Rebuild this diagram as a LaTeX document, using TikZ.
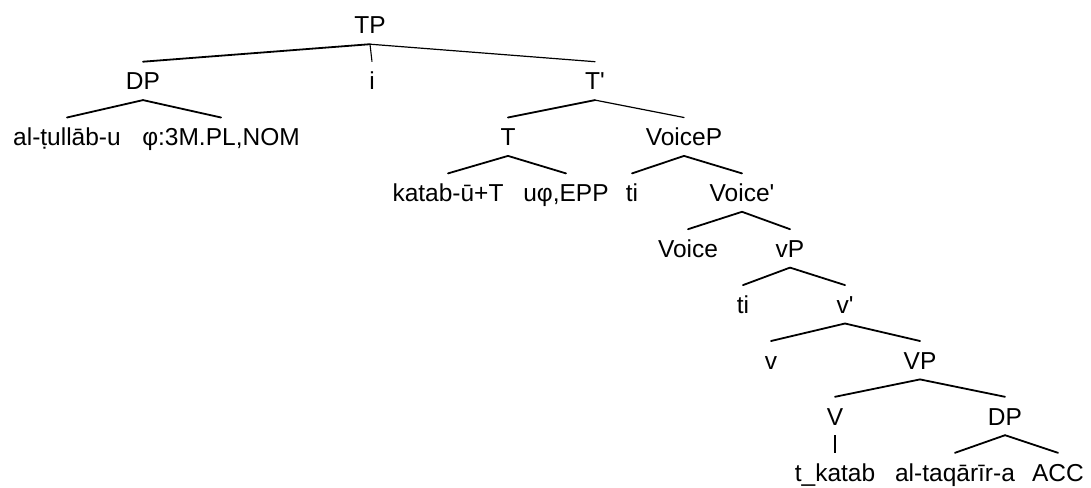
\documentclass[tikz,border=0pt]{standalone}
\usepackage{fontspec}
\newfontfamily\arialfont{Liberation Sans}
\begin{document}
\begin{tikzpicture}[x=1pt,y=-1pt,
  lab/.style={font=\arialfont\fontsize{24.5}{28}\selectfont, anchor=base,
    text height=18pt, text depth=0pt, inner xsep=0pt, inner ysep=10pt},
  br/.style={line width=1.8pt, line cap=round},
  thinbr/.style={line width=1.2pt, line cap=round},
  vert/.style={line width=1.1pt}]
\useasboundingbox (0,0) rectangle (1091,487);
\def\Lz{34}\def\La{89.9}\def\Lb{145.7}\def\Lc{201.6}\def\Ld{257.4}
\def\Le{313.3}\def\Lf{369.2}\def\Lg{425}\def\Lh{481}
% level 0
\node[lab] (TP) at (370,\Lz) {TP};
% level 1
\node[lab] (DPa) at (143,\La) {DP};
\node[lab] (i) at (372,\La) {i};
\node[lab] (Tbar) at (595,\La) {T'};
% level 2
\node[lab] (tullab) at (67,\Lb) {al-ṭullāb-u};
\node[lab] (phi) at (221,\Lb) {φ:3M.PL,NOM};
\node[lab] (T) at (508,\Lb) {T};
\node[lab] (VoiceP) at (684,\Lb) {VoiceP};
% level 3
\node[lab] (katab) at (448,\Lc) {katab-ū+T};
\node[lab] (uphi) at (566,\Lc) {uφ,EPP};
\node[lab] (tia) at (632,\Lc) {ti};
\node[lab] (Voicebar) at (742,\Lc) {Voice'};
% level 4
\node[lab] (Voice) at (688,\Ld) {Voice};
\node[lab] (vP) at (790,\Ld) {vP};
% level 5
\node[lab] (tib) at (743,\Le) {ti};
\node[lab] (vbar) at (845,\Le) {v'};
% level 6
\node[lab] (v) at (771,\Lf) {v};
\node[lab] (VP) at (920,\Lf) {VP};
% level 7
\node[lab] (V) at (835,\Lg) {V};
\node[lab] (DPb) at (1005,\Lg) {DP};
% level 8
\node[lab] (tkatab) at (835,\Lh) {t\_katab};
\node[lab] (taqarir) at (955,\Lh) {al-taqārīr-a};
\node[lab] (ACC) at (1058,\Lh) {ACC};
% branches
\draw[br] (TP.south) -- (DPa.north);
\draw[vert] (TP.south) -- (i.north);
\draw[thinbr] (TP.south) -- (Tbar.north);
\draw[br] (DPa.south) -- (tullab.north);
\draw[br] (DPa.south) -- (phi.north);
\draw[br] (Tbar.south) -- (T.north);
\draw[thinbr] (Tbar.south) -- (VoiceP.north);
\draw[br] (T.south) -- (katab.north);
\draw[br] (T.south) -- (uphi.north);
\draw[br] (VoiceP.south) -- (tia.north);
\draw[br] (VoiceP.south) -- (Voicebar.north);
\draw[br] (Voicebar.south) -- (Voice.north);
\draw[br] (Voicebar.south) -- (vP.north);
\draw[br] (vP.south) -- (tib.north);
\draw[br] (vP.south) -- (vbar.north);
\draw[br] (vbar.south) -- (v.north);
\draw[br] (vbar.south) -- (VP.north);
\draw[br] (VP.south) -- (V.north);
\draw[br] (VP.south) -- (DPb.north);
\draw[vert] (V.south) -- (tkatab.north);
\draw[br] (DPb.south) -- (taqarir.north);
\draw[br] (DPb.south) -- (ACC.north);
\end{tikzpicture}
\end{document}
